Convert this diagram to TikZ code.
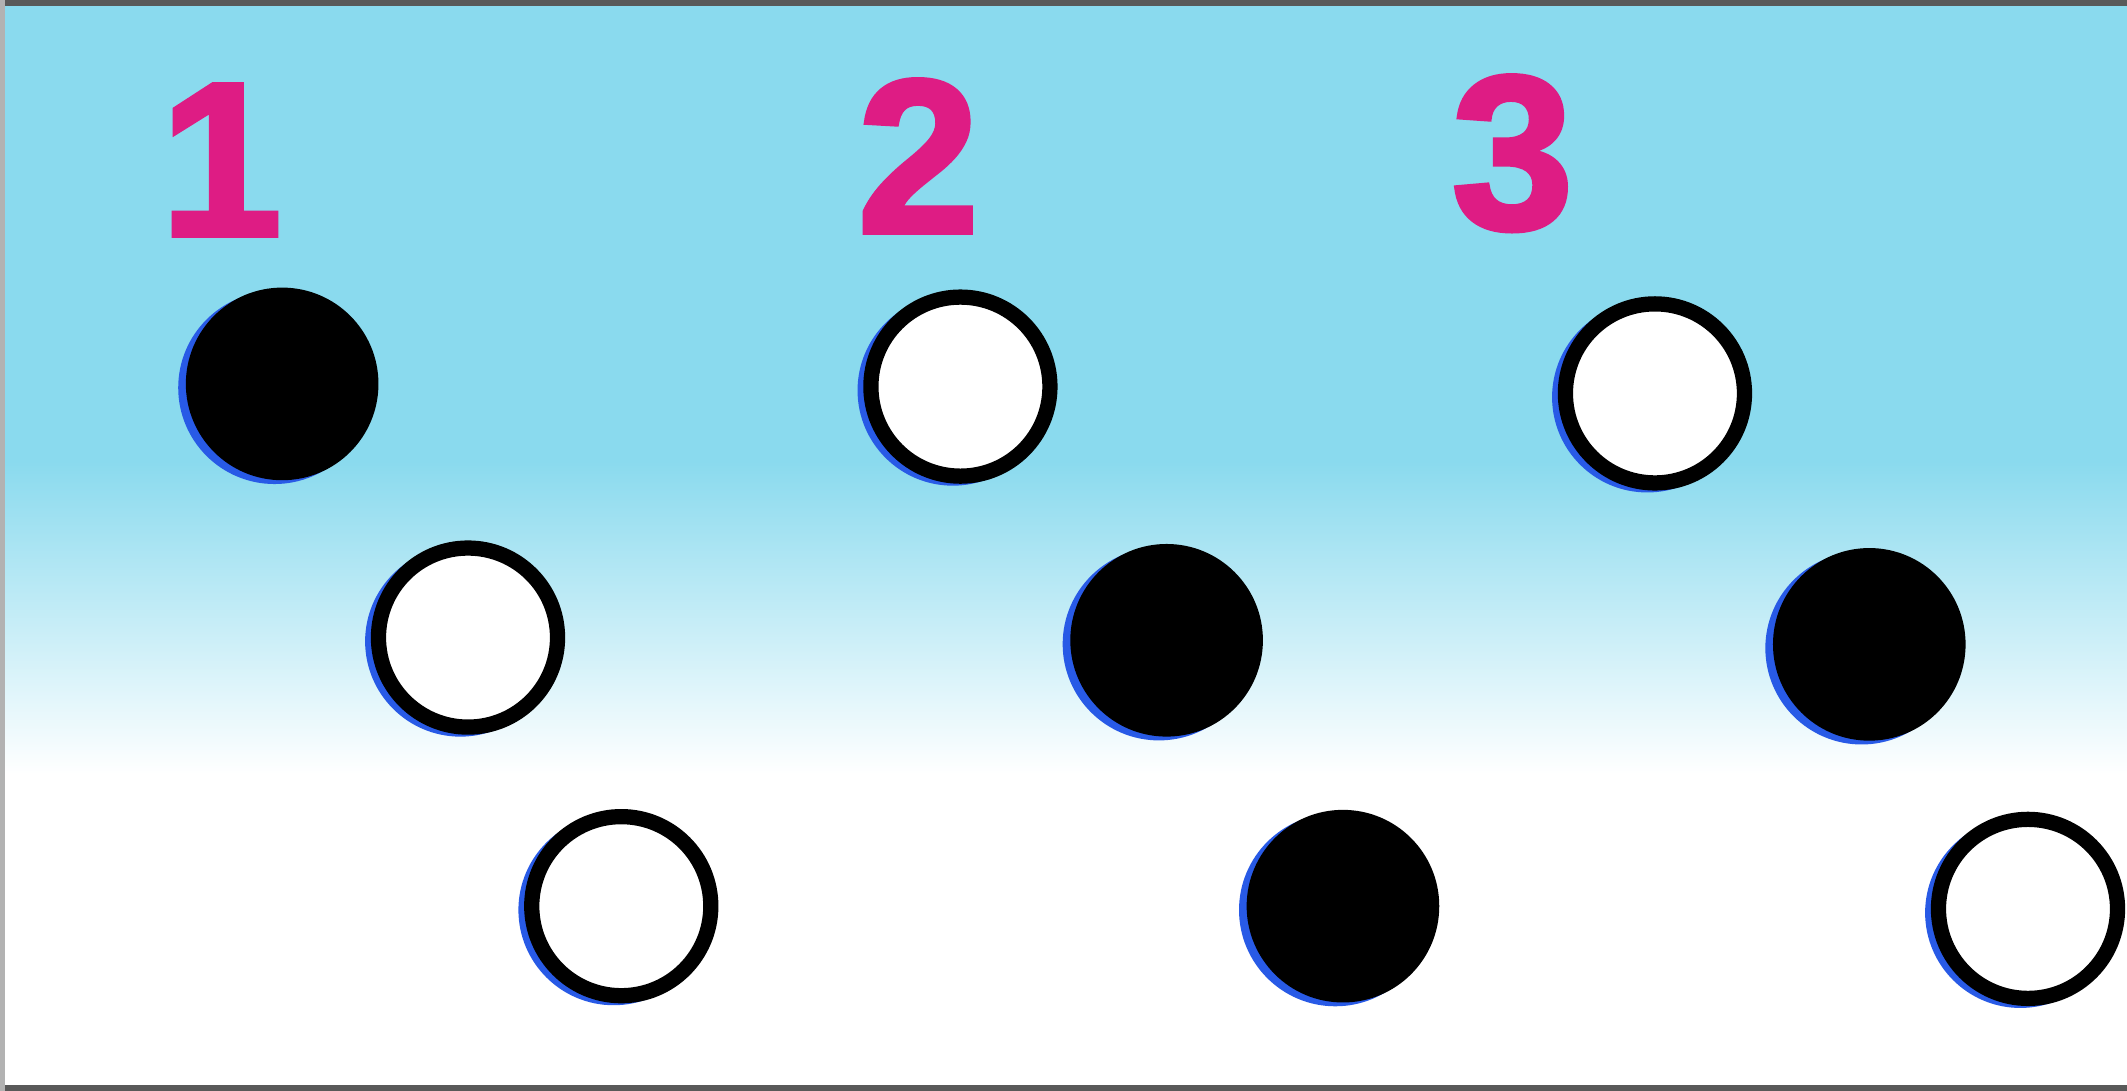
\documentclass[tikz,border=0pt]{standalone}
\usepackage{xcolor}
\usepackage{fontspec}
\setmainfont{Liberation Sans}
\newfontfamily\numfont{Liberation Sans}[BoldFeatures={FakeBold=2.2}]
\usepackage{tikz}
\usetikzlibrary{positioning,calc}

\definecolor{sky}{RGB}{138,218,238}
\definecolor{numpink}{RGB}{222,28,132}
\definecolor{misreg}{RGB}{40,90,230}

\begin{document}
\begin{tikzpicture}[
  num/.style={font=\numfont\bfseries\fontsize{46}{46}\selectfont, text=numpink, inner sep=0pt},
  hole/.style={circle, draw=black, line width=3.2pt, fill=white, minimum size=1.32cm, inner sep=0pt,
    preaction={draw=misreg, line width=2.4pt, transform canvas={xshift=-1.6pt, yshift=-0.8pt}}},
  dot/.style={circle, fill=black, minimum size=1.42cm, inner sep=0pt,
    preaction={fill=misreg, transform canvas={xshift=-1.6pt, yshift=-0.8pt}}},
]
% background
\useasboundingbox (0,0) rectangle (15.68,8.04);
\fill[sky] (0,4.63) rectangle (15.68,8.04);
\shade[top color=sky, bottom color=white] (0,2.33) rectangle (15.68,4.64);
\fill[white] (0,0) rectangle (15.68,2.34);
\draw[gray!70!black, line width=1.2pt] (0,8.02) -- (15.68,8.02);
\draw[gray!70!black, line width=1.2pt] (0,0.02) -- (15.68,0.02);
\draw[gray!60, line width=1pt] (0.02,0) -- (0.02,8.04);
% numbers
\node[num] (n1) at (1.63,6.86) {1};
\node[num] (n2) at (6.77,6.89) {2};
\node[num] (n3) at (11.15,6.91) {3};
% first column
\node[dot]  (a1) at (2.08,5.21) {};
\node[hole] (a2) at (3.45,3.34) {};
\node[hole] (a3) at (4.58,1.36) {};
% second column
\node[hole] (b1) at (7.08,5.19) {};
\node[dot]  (b2) at (8.60,3.32) {};
\node[dot]  (b3) at (9.90,1.36) {};
% third column
\node[hole] (c1) at (12.20,5.14) {};
\node[dot]  (c2) at (13.78,3.29) {};
\node[hole] (c3) at (14.95,1.34) {};
\end{tikzpicture}
\end{document}
